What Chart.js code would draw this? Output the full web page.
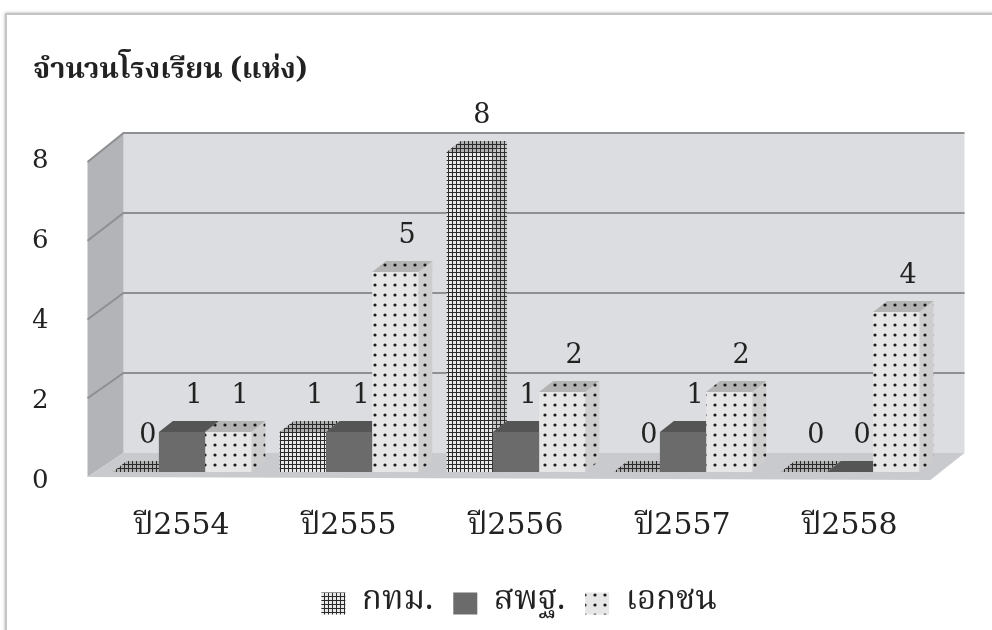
<!DOCTYPE html>
<html>
<head>
<meta charset="utf-8">
<script src="https://cdn.jsdelivr.net/npm/chart.js@4.4.0/dist/chart.umd.min.js"></script>
<style>
  body { margin: 0; background: #fff; }
  #wrap { position: relative; width: 992px; height: 630px; overflow: hidden; }
  #frame { position: absolute; left: 5px; top: 13px; width: 1000px; height: 640px; border: 2px solid #c4c4c4; box-shadow: 0 0 3px #aaa; }
  canvas { position: absolute; left: 0; top: 0; }
</style>
</head>
<body>
<div id="wrap"><div id="frame"></div><canvas id="chart" width="992" height="630"></canvas></div>
<script>
// data
var years = ['ปี2554', 'ปี2555', 'ปี2556', 'ปี2557', 'ปี2558'];
var bma = [0, 1, 8, 0, 0];    // กทม.
var obec = [1, 1, 1, 1, 0];   // สพฐ.
var priv = [1, 5, 2, 2, 4];   // เอกชน
var yTicks = [0, 2, 4, 6, 8];

var thai = "Norasi, 'Noto Serif Thai', 'Noto Sans Thai', Garuda, Loma, 'DejaVu Serif', serif";
var numFont = "'DejaVu Serif', " + thai; // wide serif digits, thai falls back

// fill patterns
function gridPat(bg, line) {
    var c = document.createElement('canvas');
    c.width = 4; c.height = 4;
    var g = c.getContext('2d');
    g.fillStyle = bg; g.fillRect(0, 0, 4, 4);
    g.fillStyle = line; g.fillRect(0, 0, 4, 1); g.fillRect(0, 0, 1, 4);
    return g.createPattern(c, 'repeat');
}
function dotPat(bg) {
    var c = document.createElement('canvas');
    c.width = 10; c.height = 10;
    var g = c.getContext('2d');
    g.fillStyle = bg; g.fillRect(0, 0, 10, 10);
    g.fillStyle = '#1a1a1a';
    g.beginPath(); g.arc(5, 5, 1.6, 0, Math.PI * 2); g.fill();
    return g.createPattern(c, 'repeat');
}

var faces = [
    { front: gridPat('#e8e8e8', '#2a2a2a'), top: gridPat('#b0b0b0', '#2a2a2a'), side: gridPat('#c8c8c8', '#2e2e2e') },
    { front: '#6b6b6b', top: '#555555', side: '#4e4e4e' },
    { front: dotPat('#e6e6e6'), top: dotPat('#b3b3b3'), side: dotPat('#cdcdcd') }
];

function poly(ctx, pts, fill) {
    ctx.beginPath();
    ctx.moveTo(pts[0][0], pts[0][1]);
    for (var i = 1; i < pts.length; i++) ctx.lineTo(pts[i][0], pts[i][1]);
    ctx.closePath();
    ctx.fillStyle = fill;
    ctx.fill();
}

var dx = 14, dy = 11; // bar depth

var box3d = {
    id: 'box3d',
    afterLayout: function (chart) {
        // legend sits a bit right of centre in the original
        chart.legend.left += 36;
        chart.legend.right += 36;
    },
    beforeDatasetsDraw: function (chart) {
        var ctx = chart.ctx, a = chart.chartArea, ys = chart.scales.y;
        var z = ys.getPixelForValue(0), top = ys.getPixelForValue(8);
        var L = a.left, R = a.right;
        ctx.save();
        // back wall
        ctx.fillStyle = '#dcdde0';
        ctx.fillRect(L + 25, top - 19, R + 31 - (L + 25), z - top);
        // side wall
        poly(ctx, [[L - 11, z + 5], [L - 11, top + 10], [L + 25, top - 19], [L + 25, z - 19]], '#b3b4b7');
        // floor
        poly(ctx, [[L - 11, z + 5], [R - 3, z + 8], [R + 31, z - 19], [L + 25, z - 19]], '#c9cacd');
        // grid lines
        ctx.strokeStyle = '#8e8f91';
        ctx.lineWidth = 2;
        yTicks.forEach(function (v) {
            if (v === 0) return;
            var yb = ys.getPixelForValue(v) - 19;
            var yf = z + 5 - v * ((z + 5) - (top + 10)) / 8;
            ctx.beginPath();
            ctx.moveTo(L - 11, yf);
            ctx.lineTo(L + 25, yb);
            ctx.lineTo(R + 31, yb);
            ctx.stroke();
        });
        // top and side faces of the bars
        var n = chart.data.labels.length;
        for (var i = 0; i < n; i++) {
            for (var d = 0; d < chart.data.datasets.length; d++) {
                var el = chart.getDatasetMeta(d).data[i];
                var l = el.x - el.width / 2, r = el.x + el.width / 2;
                var t = el.y, b = el.base;
                poly(ctx, [[r, t], [r + dx, t - dy], [r + dx, b - dy], [r, b]], faces[d].side);
                poly(ctx, [[l, t], [l + dx, t - dy], [r + dx, t - dy], [r, t]], faces[d].top);
            }
        }
        ctx.restore();
    },
    afterDatasetsDraw: function (chart) {
        var ctx = chart.ctx;
        ctx.save();
        ctx.font = "27px " + numFont;
        ctx.fillStyle = '#222';
        ctx.textAlign = 'center';
        ctx.textBaseline = 'middle';
        chart.data.datasets.forEach(function (ds, d) {
            chart.getDatasetMeta(d).data.forEach(function (el, i) {
                ctx.fillText(String(ds.data[i]), el.x + 12, el.y - 36);
            });
        });
        ctx.restore();
    }
};

new Chart(document.getElementById('chart'), {
    type: 'bar',
    data: {
        labels: years,
        datasets: [
            { label: 'กทม.', data: bma, backgroundColor: faces[0].front },
            { label: 'สพฐ.', data: obec, backgroundColor: faces[1].front },
            { label: 'เอกชน', data: priv, backgroundColor: faces[2].front }
        ]
    },
    options: {
        responsive: false,
        animation: false,
        layout: { padding: { left: 33, right: 58.5, top: 41, bottom: 0 } },
        datasets: { bar: { categoryPercentage: 0.83, barPercentage: 1, borderWidth: 0 } },
        scales: {
            x: {
                grid: { display: false },
                border: { display: false },
                ticks: { font: { size: 30, family: numFont }, color: '#222', padding: 28 },
                afterFit: function (s) { s.height = 95; }
            },
            y: {
                min: 0, max: 8,
                afterBuildTicks: function (s) { s.ticks = yTicks.map(function (v) { return { value: v }; }); },
                grid: { display: false },
                border: { display: false },
                ticks: { font: { size: 26, family: numFont }, color: '#222', padding: 42, labelOffset: 9 },
                afterFit: function (s) { s.width = 65.5; }
            }
        },
        plugins: {
            title: {
                display: true, text: 'จำนวนโรงเรียน (แห่ง)', align: 'start',
                font: { size: 29, weight: 'bold', family: thai }, color: '#222',
                padding: { top: 15, bottom: 61.2 }
            },
            legend: {
                position: 'bottom',
                labels: { font: { size: 33, family: thai }, color: '#222', boxWidth: 24, boxHeight: 22, padding: 20 }
            },
            tooltip: { enabled: false }
        }
    },
    plugins: [box3d]
});
</script>
</body>
</html>
